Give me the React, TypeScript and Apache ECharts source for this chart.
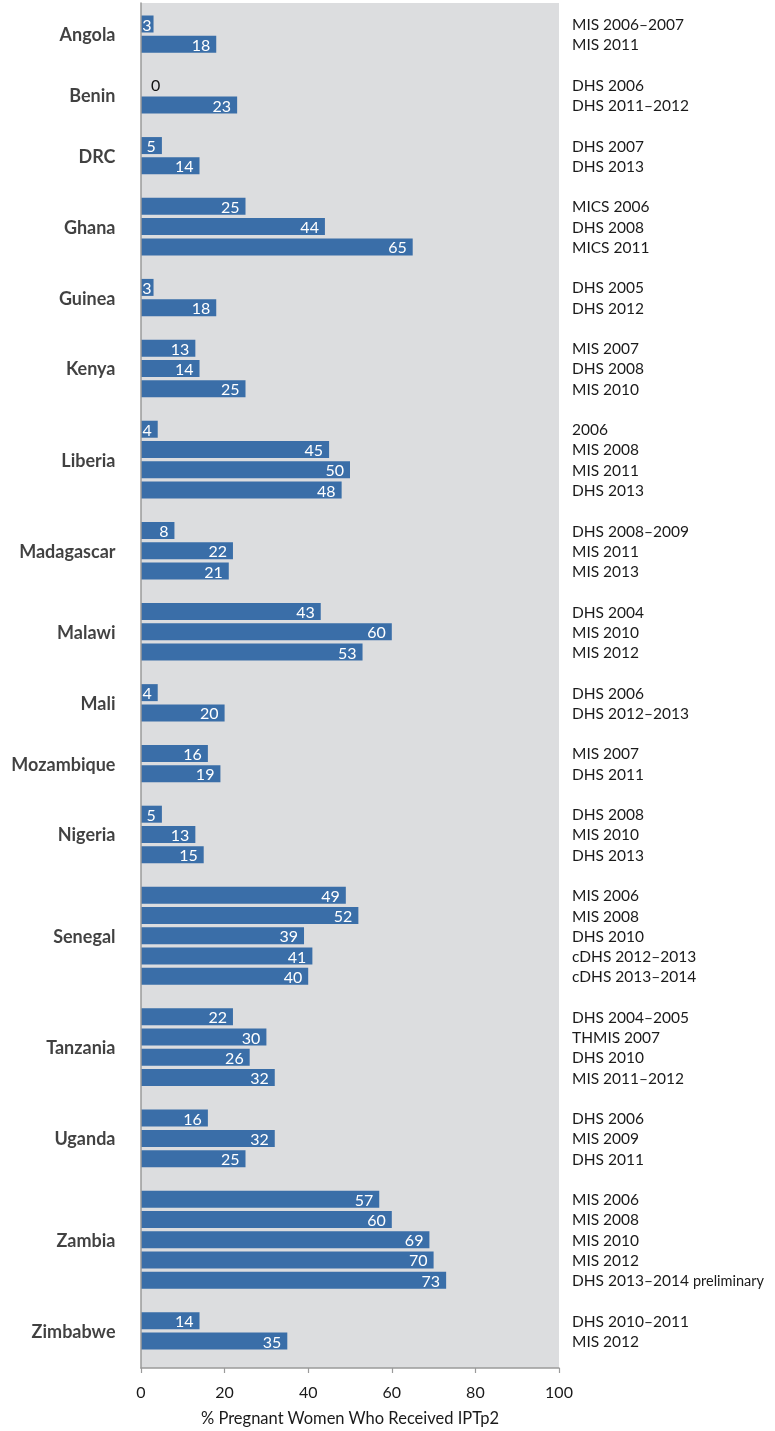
import React, { useEffect, useRef } from "react";
import * as echarts from "echarts";

const countries = [
  "Angola", "Benin", "DRC", "Ghana", "Guinea", "Kenya", "Liberia", "Madagascar",
  "Malawi", "Mali", "Mozambique", "Nigeria", "Senegal", "Tanzania", "Uganda", "Zambia", "Zimbabwe",
];

const surveys = [
  ["MIS 2006–2007", "MIS 2011"],
  ["DHS 2006", "DHS 2011–2012"],
  ["DHS 2007", "DHS 2013"],
  ["MICS 2006", "DHS 2008", "MICS 2011"],
  ["DHS 2005", "DHS 2012"],
  ["MIS 2007", "DHS 2008", "MIS 2010"],
  ["2006", "MIS 2008", "MIS 2011", "DHS 2013"],
  ["DHS 2008–2009", "MIS 2011", "MIS 2013"],
  ["DHS 2004", "MIS 2010", "MIS 2012"],
  ["DHS 2006", "DHS 2012–2013"],
  ["MIS 2007", "DHS 2011"],
  ["DHS 2008", "MIS 2010", "DHS 2013"],
  ["MIS 2006", "MIS 2008", "DHS 2010", "cDHS 2012–2013", "cDHS 2013–2014"],
  ["DHS 2004–2005", "THMIS 2007", "DHS 2010", "MIS 2011–2012"],
  ["DHS 2006", "MIS 2009", "DHS 2011"],
  ["MIS 2006", "MIS 2008", "MIS 2010", "MIS 2012", "DHS 2013–2014 preliminary"],
  ["DHS 2010–2011", "MIS 2012"],
];

const values = [
  [3, 18],
  [0, 23],
  [5, 14],
  [25, 44, 65],
  [3, 18],
  [13, 14, 25],
  [4, 45, 50, 48],
  [8, 22, 21],
  [43, 60, 53],
  [4, 20],
  [16, 19],
  [5, 13, 15],
  [49, 52, 39, 41, 40],
  [22, 30, 26, 32],
  [16, 32, 25],
  [57, 60, 69, 70, 73],
  [14, 35],
];

const xTicks = [0, 20, 40, 60, 80, 100];
const axisTitle = "% Pregnant Women Who Received IPTp2";

const FONT = "Lato, 'Open Sans', sans-serif";
const BAR = "#3a6ea8";
const TEXT = "#1a1a1a";

export default function App() {
  const ref = useRef<HTMLDivElement>(null);

  useEffect(() => {
    if (!ref.current) return;
    const chart = echarts.init(ref.current, null, { renderer: "svg" });

    type Slot = { gap: boolean; survey: string; value: number | null };
    const slots: Slot[] = [];
    const centers: number[] = [];
    countries.forEach((c, g) => {
      if (g > 0) slots.push({ gap: true, survey: "", value: null });
      const start = slots.length;
      values[g].forEach((v, j) => slots.push({ gap: false, survey: surveys[g][j], value: v }));
      centers.push((start + slots.length - 1) / 2);
    });
    const n = slots.length;

    const slotH = (1341 - 24) / (n - 1);
    const top2 = 24 - slotH / 2;
    const h2 = slotH * n;

    const barData = slots.map((s) => {
      if (s.gap) return "-";
      if (s.value === 0)
        return {
          value: 0,
          label: { position: "right", color: "#111", distance: 10 },
        };
      if ((s.value as number) < 4)
        return { value: s.value, label: { distance: 2 } };
      return s.value;
    });

    const option: any = {
      animation: false,
      textStyle: { fontFamily: FONT },
      grid: [
        {
          left: 141,
          top: 3,
          width: 418,
          height: 1366,
          show: true,
          backgroundColor: "#dcdddf",
          borderWidth: 0,
        },
        { left: 141, top: top2, width: 418, height: h2, show: false },
      ],
      xAxis: [
        {
          gridIndex: 0,
          type: "value",
          min: xTicks[0],
          max: xTicks[xTicks.length - 1],
          interval: xTicks[1] - xTicks[0],
          axisLine: { show: true, onZero: false, lineStyle: { color: "#9a9a9a", width: 1.5 } },
          axisTick: { show: true, length: 5, lineStyle: { color: "#9a9a9a", width: 1.2 } },
          splitLine: { show: false },
          axisLabel: { color: TEXT, fontSize: 16, margin: 15, fontFamily: FONT },
          name: axisTitle,
          nameLocation: "middle",
          nameGap: 41,
          nameTextStyle: { color: TEXT, fontSize: 16.5, fontFamily: FONT },
          z: 3,
        },
        {
          gridIndex: 1,
          type: "value",
          min: 0,
          max: 100,
          show: false,
        },
      ],
      yAxis: [
        {
          gridIndex: 0,
          type: "value",
          min: 0,
          max: 1,
          position: "left",
          axisLine: { show: true, onZero: false, lineStyle: { color: "#9a9a9a", width: 1.5 } },
          axisTick: { show: false },
          axisLabel: { show: false },
          splitLine: { show: false },
          z: 3,
        },
        {
          gridIndex: 1,
          type: "category",
          inverse: true,
          position: "right",
          data: slots.map((_, i) => "s" + i),
          axisLine: { show: false },
          axisTick: { show: false },
          splitLine: { show: false },
          axisLabel: {
            show: true,
            interval: 0,
            margin: 13,
            color: TEXT,
            fontSize: 15.5,
            fontFamily: FONT,
            formatter: (_v: string, idx: number) => {
              const s = slots[idx].survey;
              if (s.endsWith(" preliminary")) {
                return s.replace(" preliminary", " {p|preliminary}");
              }
              return s;
            },
            rich: {
              p: { fontSize: 14.5, color: TEXT, fontFamily: FONT },
            },
          },
        },
        {
          gridIndex: 1,
          type: "value",
          inverse: true,
          min: -0.5,
          max: n - 0.5,
          show: false,
        },
      ],
      series: [
        {
          type: "bar",
          xAxisIndex: 1,
          yAxisIndex: 1,
          data: barData,
          barWidth: 17,
          itemStyle: { color: BAR },
          label: {
            show: true,
            position: "insideRight",
            distance: 6,
            color: "#ffffff",
            fontSize: 16,
            fontFamily: FONT,
          },
          z: 2,
        },
        {
          type: "scatter",
          xAxisIndex: 1,
          yAxisIndex: 2,
          symbolSize: 1,
          itemStyle: { color: "rgba(0,0,0,0)" },
          data: countries.map((c, i) => ({ name: c, value: [0, centers[i]] })),
          label: {
            show: true,
            position: "left",
            distance: 25,
            formatter: "{b}",
            color: "#111",
            fontSize: 18,
            fontWeight: "bold",
            fontFamily: FONT,
          },
          silent: true,
        },
      ],
    };

    chart.setOption(option);
    return () => chart.dispose();
  }, []);

  return (
    <div
      ref={ref}
      style={{ position: "fixed", left: 0, top: 0, width: 775, height: 1431 }}
    />
  );
}
